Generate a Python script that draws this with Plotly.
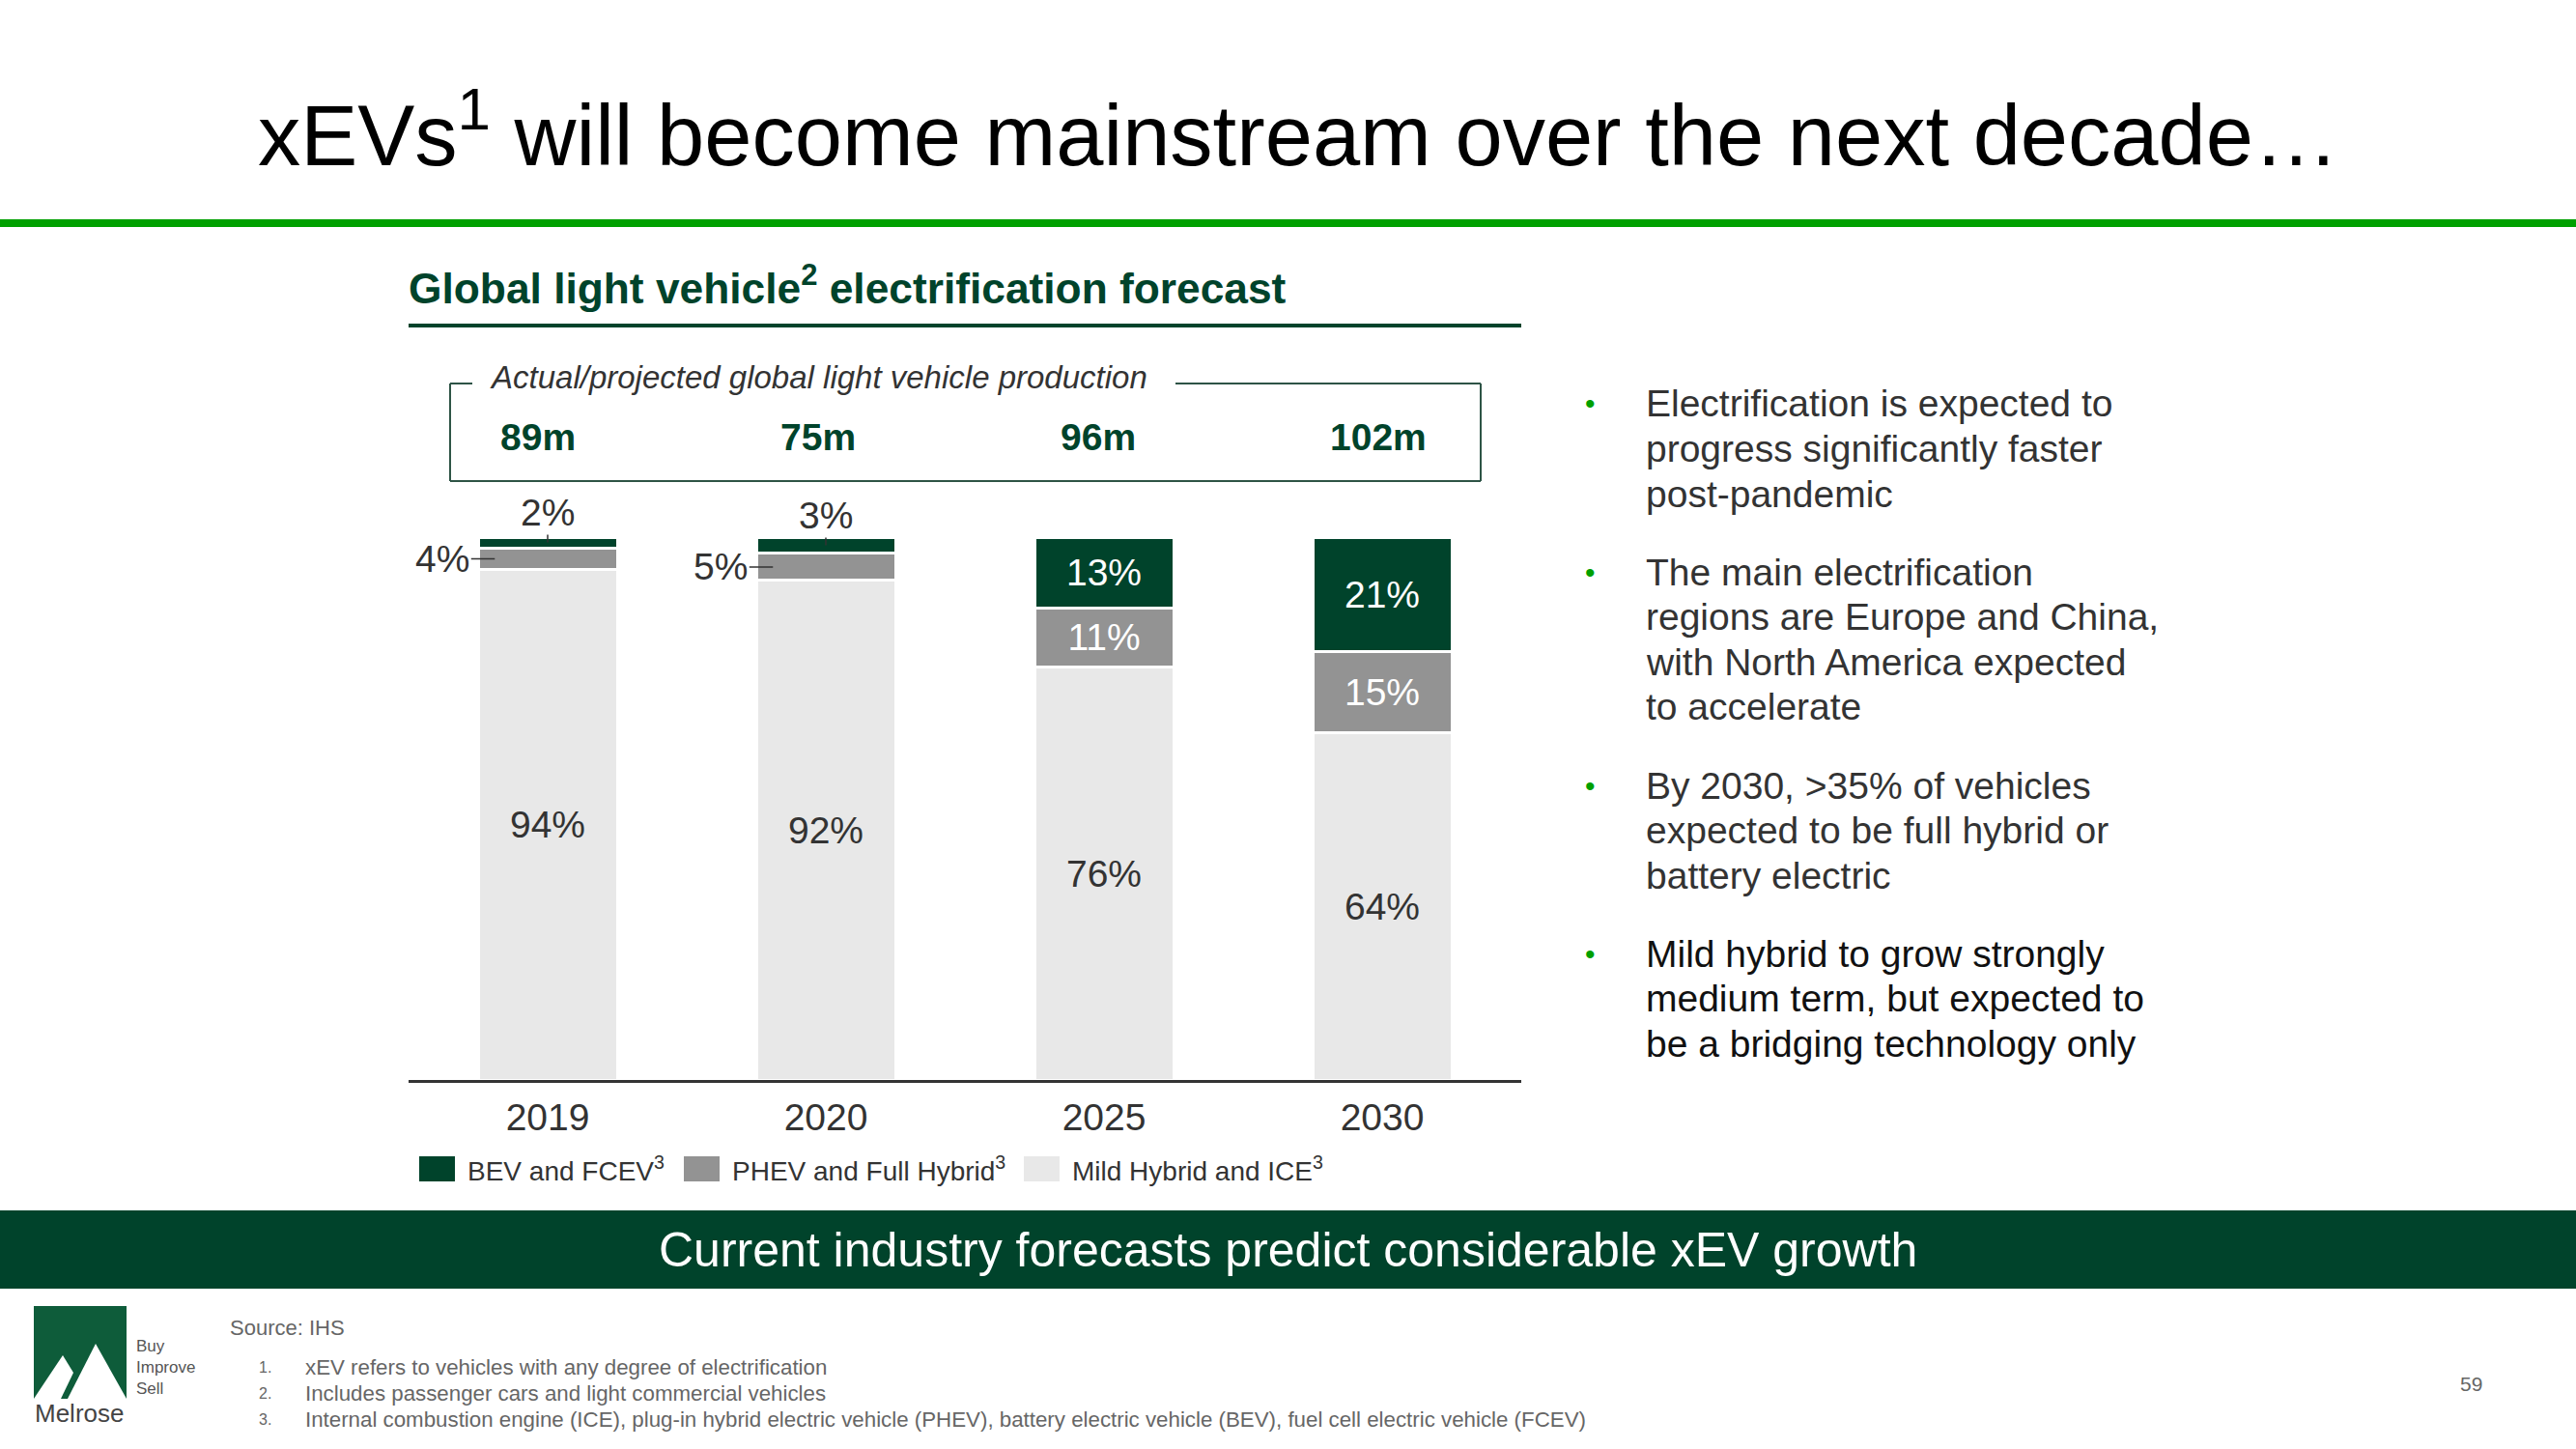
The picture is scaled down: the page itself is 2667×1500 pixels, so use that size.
import plotly.graph_objects as go

W, H = 2667, 1500
FONT = "Liberation Sans, Arial, Helvetica, sans-serif"

# ---------------- data ----------------
years = ["2019", "2020", "2025", "2030"]
bev = [2, 3, 13, 21]          # BEV and FCEV (%)
phev = [4, 5, 11, 15]         # PHEV and Full Hybrid (%)
ice = [94, 92, 76, 64]        # Mild Hybrid and ICE (%)
production_m = [89, 75, 96, 102]
series_names = ["BEV and FCEV<sup>3</sup>", "PHEV and Full Hybrid<sup>3</sup>", "Mild Hybrid and ICE<sup>3</sup>"]
bullets = [
    ["Electrification is expected to", "progress significantly faster", "post-pandemic"],
    ["The main electrification", "regions are Europe and China,", "with North America expected", "to accelerate"],
    ["By 2030, >35% of vehicles", "expected to be full hybrid or", "battery electric"],
    ["Mild hybrid to grow strongly", "medium term, but expected to", "be a bridging technology only"],
]
notes = [
    "xEV refers to vehicles with any degree of electrification",
    "Includes passenger cars and light commercial vehicles",
    "Internal combustion engine (ICE), plug-in hybrid electric vehicle (PHEV), battery electric vehicle (BEV), fuel cell electric vehicle (FCEV)",
]

# ---------------- styles ----------------
DARK = "#00432B"
GREY = "#939393"
LIGHT = "#E8E8E8"
TXT = "#333333"
BRIGHT = "#00A000"


def px(x):
    return x / W


def py(y):
    return 1 - y / H


fig = go.Figure()
THRESH = 6
for vals, color, tcolor in [(ice, LIGHT, TXT), (phev, GREY, "white"), (bev, DARK, "white")]:
    fig.add_trace(go.Bar(
        x=years, y=vals, width=0.5,
        marker=dict(color=color, line=dict(color="white", width=3)),
        text=[f"{v}%" for v in vals],
        textposition=["inside" if v >= THRESH else "none" for v in vals],
        insidetextanchor="middle", constraintext="none",
        textfont=dict(size=39, color=tcolor, family=FONT),
        showlegend=False, hoverinfo="skip",
    ))

ann = []
shapes = []

# external small labels with leader lines
for i, yr in enumerate(years):
    if bev[i] < THRESH:
        ann.append(dict(x=i, y=ice[i] + phev[i] + bev[i] / 2, xref="x", yref="y",
                        text=f"{bev[i]}%", showarrow=True, arrowhead=0, arrowwidth=1.5,
                        arrowcolor=TXT, ax=0, ay=-31, standoff=0,
                        font=dict(size=39, color=TXT, family=FONT)))
    if phev[i] < THRESH:
        ann.append(dict(x=i - 0.19, y=ice[i] + phev[i] / 2, xref="x", yref="y",
                        text=f"{phev[i]}%", showarrow=True, arrowhead=0, arrowwidth=1.5,
                        arrowcolor=TXT, ax=-54, ay=0, standoff=0,
                        font=dict(size=39, color=TXT, family=FONT)))

# production numbers in the box
for i, v in enumerate(production_m):
    ann.append(dict(x=i, y=py(452), xref="x", yref="paper", xshift=-10 + 2 * i,
                    text=f"<b>{v}m</b>", showarrow=False, xanchor="center", yanchor="middle",
                    font=dict(size=39, color=DARK, family=FONT)))

# title
ann.append(dict(x=px(265), y=py(134), xref="paper", yref="paper", xanchor="left", yanchor="middle",
                text="xEVs<sup>1</sup> will become mainstream over the next decade…", showarrow=False,
                font=dict(size=88.5, color="#000000", family=FONT)))
shapes.append(dict(type="rect", xref="paper", yref="paper", x0=0, x1=1, y0=py(235), y1=py(227),
                   fillcolor=BRIGHT, line=dict(width=0)))

# subtitle
ann.append(dict(x=px(421), y=py(295), xref="paper", yref="paper", xanchor="left", yanchor="middle",
                text="<b>Global light vehicle<sup>2</sup> electrification forecast</b>", showarrow=False,
                font=dict(size=44.3, color=DARK, family=FONT)))
shapes.append(dict(type="line", xref="paper", yref="paper", x0=px(423), x1=px(1575), y0=py(337), y1=py(337),
                   line=dict(color=DARK, width=4)))

# box
BOXC = "#2E5446"
for (x0, y0, x1, y1) in [(466, 397, 466, 498), (466, 498, 1533, 498), (1533, 397, 1533, 498),
                         (466, 397, 489, 397), (1217, 397, 1533, 397)]:
    shapes.append(dict(type="line", xref="paper", yref="paper", x0=px(x0), x1=px(x1), y0=py(y0), y1=py(y1),
                       line=dict(color=BOXC, width=2)))
ann.append(dict(x=px(505), y=py(390), xref="paper", yref="paper", xanchor="left", yanchor="middle",
                text="<i>Actual/projected global light vehicle production</i>", showarrow=False,
                font=dict(size=33, color=TXT, family=FONT)))

# legend (manual)
leg_sw = [434, 708, 1060]
for k, (name, col) in enumerate(zip(series_names, [DARK, GREY, LIGHT])):
    shapes.append(dict(type="rect", xref="paper", yref="paper", x0=px(leg_sw[k]), x1=px(leg_sw[k] + 37),
                       y0=py(1223), y1=py(1197), fillcolor=col, line=dict(width=0)))
    ann.append(dict(x=px(leg_sw[k] + 48), y=py(1210), xref="paper", yref="paper", xanchor="left",
                    yanchor="middle", text=name, showarrow=False,
                    font=dict(size=28, color=TXT, family=FONT)))

# bullets
starts = [418, 592, 813, 987]
LS = 46.5
for b, lines in enumerate(bullets):
    col = "#111111" if b == 3 else TXT
    y0 = starts[b]
    ann.append(dict(x=px(1646), y=py(y0), xref="paper", yref="paper", xanchor="center", yanchor="middle",
                    text="•", showarrow=False, font=dict(size=30, color=BRIGHT, family=FONT)))
    for j, line in enumerate(lines):
        ann.append(dict(x=px(1702), y=py(y0 + j * LS), xref="paper", yref="paper", xanchor="left",
                        yanchor="middle", text=line, showarrow=False,
                        font=dict(size=39, color=col, family=FONT)))

# banner
shapes.append(dict(type="rect", xref="paper", yref="paper", x0=0, x1=1, y0=py(1334), y1=py(1253),
                   fillcolor=DARK, line=dict(width=0)))
ann.append(dict(x=px(1333), y=py(1294), xref="paper", yref="paper", xanchor="center", yanchor="middle",
                text="Current industry forecasts predict considerable xEV growth", showarrow=False,
                font=dict(size=50, color="white", family=FONT)))

# footer
ann.append(dict(x=px(236), y=py(1374), xref="paper", yref="paper", xanchor="left", yanchor="middle",
                text="Source: IHS", showarrow=False, font=dict(size=22, color="#666666", family=FONT)))
for k, n in enumerate(notes):
    yy = [1415, 1442, 1469][k]
    ann.append(dict(x=px(266), y=py(yy), xref="paper", yref="paper", xanchor="left", yanchor="middle",
                    text=f"{k + 1}.", showarrow=False, font=dict(size=16, color="#666666", family=FONT)))
    ann.append(dict(x=px(314), y=py(yy), xref="paper", yref="paper", xanchor="left", yanchor="middle",
                    text=n, showarrow=False, font=dict(size=22.3, color="#666666", family=FONT)))
ann.append(dict(x=px(2558), y=py(1432), xref="paper", yref="paper", xanchor="center", yanchor="middle",
                text="59", showarrow=False, font=dict(size=21, color="#666666", family=FONT)))

# logo
LOGO = "#0E5C3A"
shapes.append(dict(type="rect", xref="paper", yref="paper", x0=px(35), x1=px(131), y0=py(1448), y1=py(1352),
                   fillcolor=LOGO, line=dict(width=0)))


def path(pts):
    return "M " + " L ".join(f"{px(a):.5f},{py(b):.5f}" for a, b in pts) + " Z"


shapes.append(dict(type="path", xref="paper", yref="paper",
                   path=path([(35, 1448), (65, 1403), (76, 1421), (63, 1448)]),
                   fillcolor="white", line=dict(width=0)))
shapes.append(dict(type="path", xref="paper", yref="paper",
                   path=path([(70, 1448), (99, 1391), (131, 1448)]),
                   fillcolor="white", line=dict(width=0)))
ann.append(dict(x=px(34), y=py(1463), xref="paper", yref="paper", xanchor="left", yanchor="middle",
                text="Melrose", showarrow=False, font=dict(size=26, color="#444444", family=FONT)))
for k, w in enumerate(["Buy", "Improve", "Sell"]):
    ann.append(dict(x=px(139), y=py([1393, 1415, 1437][k]), xref="paper", yref="paper", xanchor="left",
                    yanchor="middle", text=w, showarrow=False, font=dict(size=17, color="#555555", family=FONT)))

fig.update_layout(
    width=W, height=H, margin=dict(l=0, r=0, t=0, b=0),
    paper_bgcolor="white", plot_bgcolor="white",
    barmode="stack", showlegend=False,
    xaxis=dict(type="category", categoryorder="array", categoryarray=years, range=[-0.5, 3.5],
               domain=[px(423), px(1575)], showline=True, linecolor=TXT, linewidth=3,
               ticks="", showgrid=False, zeroline=False, ticklabelstandoff=2,
               tickfont=dict(size=39, color=TXT, family=FONT), fixedrange=True),
    yaxis=dict(range=[0, 100], domain=[py(1118), py(556)], visible=False, showgrid=False,
               zeroline=False, fixedrange=True),
    annotations=ann, shapes=shapes,
    font=dict(family=FONT),
)

fig.write_html("out.html", config={"displayModeBar": False},
               post_script="document.body.style.margin='0';document.body.style.overflow='hidden';")
